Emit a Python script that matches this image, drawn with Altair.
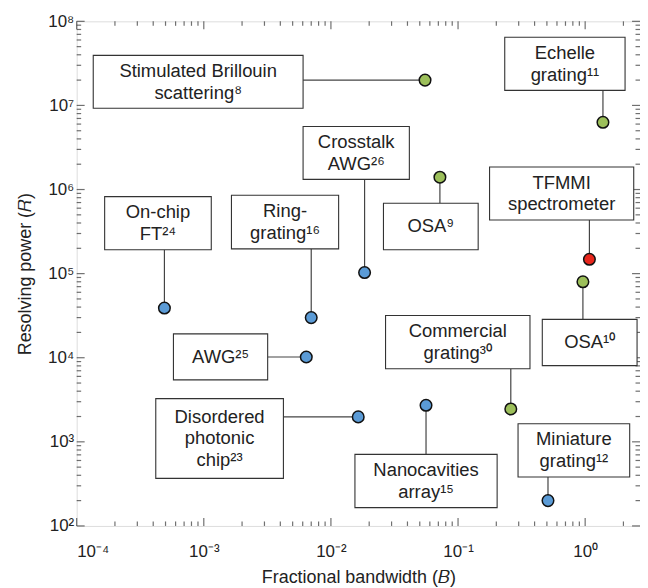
import altair as alt
import pandas as pd
import numpy as np

# ---- data ----
labels = [
    "Stimulated Brillouin\nscattering⁸",
    "Echelle\ngrating¹¹",
    "Crosstalk\nAWG²⁶",
    "OSA⁹",
    "TFMMI\nspectrometer",
    "On-chip\nFT²⁴",
    "Ring-\ngrating¹⁶",
    "OSA¹⁰",
    "AWG²⁵",
    "Commercial\ngrating³⁰",
    "Disordered\nphotonic\nchip²³",
    "Nanocavities\narray¹⁵",
    "Miniature\ngrating¹²",
]
bandwidth = [0.055, 1.38, 0.0184, 0.072, 1.08, 4.9e-4, 7.0e-3, 0.96, 6.4e-3, 0.26, 0.0164, 0.056, 0.51]
resolving = [2.0e7, 6.3e6, 1.03e5, 1.4e6, 1.48e5, 3.9e4, 3.0e4, 8.0e4, 1.02e4, 2.46e3, 1.98e3, 2.72e3, 200]
platform = ["bulk", "bulk", "chip", "bulk", "this", "chip", "chip", "bulk", "chip", "bulk", "chip", "chip", "chip"]

# annotation boxes, in data units (B from-to, R from-to)
box_b_lo = [1.35e-4, 0.233, 6.04e-3, 0.0259, 0.177, 1.66e-4, 1.65e-3, 0.46, 5.77e-4, 0.0269, 4.19e-4, 0.01545, 0.2965]
box_b_hi = [6.04e-3, 2.06, 0.0414, 0.144, 2.41, 1.145e-3, 0.0115, 2.56, 3.18e-3, 0.368, 4.23e-3, 0.203, 2.24]
box_r_lo = [9.25e6, 1.51e7, 1.32e6, 1.92e5, 4.34e5, 1.92e5, 1.97e5, 8.05e3, 5.46e3, 7.41e3, 368, 165, 382]
box_r_hi = [3.94e7, 6.47e7, 5.62e6, 6.87e5, 1.85e6, 8.24e5, 8.55e5, 2.86e4, 1.92e4, 3.18e4, 3.26e3, 710, 1637]

x_domain = [1e-4, 2.7]
y_domain = [1e2, 1e8]
x_major = [1e-4, 1e-3, 1e-2, 1e-1, 1.0]
y_major = [1e2, 1e3, 1e4, 1e5, 1e6, 1e7, 1e8]

W, H = 566, 507

df = pd.DataFrame(dict(label=labels, B=bandwidth, R=resolving, platform=platform,
                       bx1=box_b_lo, bx2=box_b_hi, by1=box_r_lo, by2=box_r_hi))
df["cx"] = np.sqrt(df.bx1 * df.bx2)
df["cy"] = np.sqrt(df.by1 * df.by2)
df["nlines"] = [s.count("\n") + 1 for s in labels]

lx1, lx2, ly1, ly2 = [], [], [], []
for _, r in df.iterrows():
    if r.B > r.bx2:
        lx1.append(r.bx2); lx2.append(r.B); ly1.append(r.R); ly2.append(r.R)
    elif r.R < r.by1:
        lx1.append(r.B); lx2.append(r.B); ly1.append(r.by1); ly2.append(r.R)
    else:
        lx1.append(r.B); lx2.append(r.B); ly1.append(r.by2); ly2.append(r.R)
df["lx1"], df["lx2"], df["ly1"], df["ly2"] = lx1, lx2, ly1, ly2

x_minor = [m * 10.0 ** e for e in range(-4, 1) for m in range(2, 10) if m * 10.0 ** e <= x_domain[1]]
y_minor = [m * 10.0 ** e for e in range(2, 8) for m in range(2, 10)]

xs = alt.Scale(type="log", domain=x_domain, nice=False)
ys = alt.Scale(type="log", domain=y_domain, nice=False)

FONT = "Liberation Sans"
sup = "['⁰','¹','²','³','⁴','⁵','⁶','⁷','⁸','⁹']"
label_expr = ("'10' + (round(log(datum.value)/LN10) < 0 ? '⁻' : '') + "
              + sup + "[abs(round(log(datum.value)/LN10))]")

# label axes
x_lab = alt.Axis(orient="bottom", values=x_major, ticks=False, domain=False, grid=False,
                 labelExpr=label_expr, labelFont=FONT, labelFontSize=17, labelColor="#222",
                 labelPadding=18, title="Fractional bandwidth (𝐵)", titleFont=FONT,
                 titleFontSize=18, titleFontWeight="normal", titleColor="#222", titlePadding=9)
y_lab = alt.Axis(orient="left", values=y_major, ticks=False, domain=False, grid=False,
                 labelExpr=label_expr, labelFont=FONT, labelFontSize=17, labelColor="#222",
                 labelPadding=3, title="Resolving power (𝑅)", titleFont=FONT,
                 titleFontSize=18, titleFontWeight="normal", titleColor="#222", titlePadding=13)

# inward tick marks, positioned along the axes by the tick values
MAJ, MIN = 8, 4.5
tick_kw = dict(thickness=1.2, color="#333")


def tick_set(xvals, yvals, L):
    dx = pd.DataFrame({"v": xvals})
    dy = pd.DataFrame({"v": yvals})
    return [
        alt.Chart(dx).mark_tick(orient="vertical", **tick_kw).encode(
            x=alt.X("v:Q", scale=xs, axis=None), y=alt.value(L / 2), size=alt.value(L)),
        alt.Chart(dx).mark_tick(orient="vertical", **tick_kw).encode(
            x=alt.X("v:Q", scale=xs, axis=None), y=alt.value(H - L / 2), size=alt.value(L)),
        alt.Chart(dy).mark_tick(orient="horizontal", **tick_kw).encode(
            y=alt.Y("v:Q", scale=ys, axis=None), x=alt.value(L / 2), size=alt.value(L)),
        alt.Chart(dy).mark_tick(orient="horizontal", **tick_kw).encode(
            y=alt.Y("v:Q", scale=ys, axis=None), x=alt.value(W - L / 2), size=alt.value(L)),
    ]


ticks = tick_set(x_major, y_major, MAJ) + tick_set(x_minor, y_minor, MIN)

lines = alt.Chart(df).mark_rule(color="#444", strokeWidth=1.2).encode(
    x=alt.X("lx1:Q", scale=xs, axis=None),
    x2="lx2:Q",
    y=alt.Y("ly1:Q", scale=ys, axis=None),
    y2="ly2:Q",
)

boxes = alt.Chart(df).mark_rect(fill="white", stroke="#333", strokeWidth=1.1).encode(
    x=alt.X("bx1:Q", scale=xs, axis=None),
    x2="bx2:Q",
    y=alt.Y("by1:Q", scale=ys, axis=None),
    y2="by2:Q",
)

points = alt.Chart(df).mark_point(filled=True, shape="circle", size=135, stroke="#111",
                                   strokeWidth=1.5, opacity=1).encode(
    x=alt.X("B:Q", scale=xs, axis=x_lab),
    y=alt.Y("R:Q", scale=ys, axis=y_lab),
    fill=alt.Fill("platform:N", scale=alt.Scale(domain=["bulk", "chip", "this"],
                                                 range=["#9cbf5a", "#5b9bd6", "#e8261c"]),
                  legend=None),
)

LH = 22
texts = [
    alt.Chart(df).transform_filter(f"datum.nlines == {n}").mark_text(
        font=FONT, fontSize=18.5, color="#222", lineBreak="\n", lineHeight=LH,
        align="center", baseline="middle", dy=-(n - 1) * LH / 2).encode(
        x=alt.X("cx:Q", scale=xs, axis=None),
        y=alt.Y("cy:Q", scale=ys, axis=None),
        text="label:N",
    )
    for n in (1, 2, 3)
]

chart = alt.layer(*ticks, lines, boxes, points, *texts).resolve_axis(
    x="independent", y="independent"
).properties(
    width=W, height=H,
    autosize=alt.AutoSizeParams(type="none"),
    padding={"left": 69, "top": 12, "right": 0, "bottom": 66},
).configure_view(stroke="#333", strokeWidth=1.2).configure(background="white")

chart.save("out.html", embed_options={"renderer": "svg", "actions": False})
